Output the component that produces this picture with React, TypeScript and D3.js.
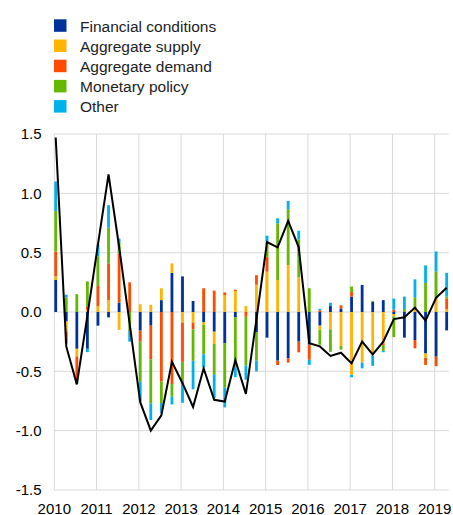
import React from "react";
import * as d3 from "d3";

const quarters = d3.range(38).map((i) => 2010 + i / 4);
const seriesNames = ["Financial conditions", "Aggregate supply", "Aggregate demand", "Monetary policy", "Other"];
const seriesKeys = ["fin", "sup", "dem", "mon", "oth"];
const seriesColors = ["#003299", "#FFB400", "#FF4B00", "#65B800", "#00B1EA"];

const fin = [0.27, -0.08, -0.31, -0.31, -0.115, -0.045, 0.08, 0, -0.157, -0.115, 0.1, 0.33, 0.3, 0.093, -0.087, -0.166, -0.264, -0.045, 0, -0.17, -0.216, -0.41, -0.39, -0.25, -0.275, -0.115, 0.05, 0.03, 0.13, 0.228, 0.087, 0.1, -0.017, -0.216, -0.236, -0.35, -0.377, -0.155];
const sup = [0.03, -0.085, -0.065, 0.02, 0.05, 0.1, -0.15, 0, 0.065, 0.06, 0.1, 0.08, -0.09, -0.09, -0.022, -0.104, 0.143, 0.177, 0.05, 0.23, 0.34, 0.27, 0.396, 0.292, 0, -0.035, -0.146, -0.287, -0.53, -0.427, -0.37, -0.264, -0.02, 0, 0.02, -0.036, 0.12, 0.022];
const dem = [0.21, -0.1, -0.2, 0.028, 0.17, 0.31, 0.41, 0.25, -0.093, -0.284, -0.587, -0.607, -0.33, -0.056, 0.2, 0.18, 0.022, 0.011, -0.04, 0.08, 0.125, -0.037, -0.037, -0.09, -0.128, 0.015, 0, 0.027, 0.038, 0, 0, -0.015, 0.02, 0, -0.07, -0.06, -0.08, 0.093];
const mon = [0.34, 0.124, 0.15, 0.21, 0.25, 0.3, 0.095, -0.16, -0.337, -0.371, -0.18, -0.107, -0.16, -0.265, -0.247, -0.26, -0.374, -0.42, -0.41, -0.24, 0.13, 0.478, 0.47, 0.32, 0.2, -0.126, -0.19, -0.03, 0.046, 0, 0.006, -0.05, -0.175, 0.025, 0.105, 0.245, 0.22, 0.015];
const oth = [0.25, 0.022, -0.03, -0.028, 0.1, 0.19, 0.035, -0.09, -0.169, -0.14, -0.085, -0.065, -0.185, -0.24, -0.112, -0.197, -0.166, -0.084, -0.12, -0.09, 0.048, 0.042, 0.07, 0.073, -0.042, 0.012, 0.028, 0, -0.02, -0.048, -0.084, -0.01, 0.093, 0.105, 0.15, 0.148, 0.17, 0.2];
const total = [1.47, -0.29, -0.61, -0.03, 0.57, 1.16, 0.55, -0.1, -0.76, -1.0, -0.87, -0.42, -0.6, -0.8, -0.475, -0.74, -0.755, -0.405, -0.69, -0.06, 0.59, 0.545, 0.767, 0.545, -0.264, -0.29, -0.37, -0.343, -0.433, -0.25, -0.357, -0.25, -0.06, -0.045, 0.037, -0.073, 0.12, 0.205];

const yTicks = [1.5, 1.0, 0.5, 0.0, -0.5, -1.0, -1.5];
const yearTicks = d3.range(2010, 2020);

const W = 453;
const H = 515;
const FONT = "'Liberation Sans', Arial, sans-serif";

export default function App() {
  const x = d3.scaleLinear().domain([2010, 2019]).range([54.3, 434.7]);
  const y = d3.scaleLinear().domain([-1.5, 1.5]).range([490, 134]);
  const xRight = 449;
  const barW = 2.8;
  const barOffset = 1.4;

  const rows = quarters.map((q, i) => ({
    q,
    fin: fin[i],
    sup: sup[i],
    dem: dem[i],
    mon: mon[i],
    oth: oth[i],
  }));
  const stack = d3.stack<any>().keys(seriesKeys).offset(d3.stackOffsetDiverging);
  const layers = stack(rows);

  const line = d3
    .line<number>()
    .x((_, i) => x(quarters[i]) + barOffset)
    .y((d) => y(d));

  return (
    <svg
      width={W}
      height={H}
      style={{ position: "absolute", left: 0, top: 0, background: "#fff" }}
      fontFamily={FONT}
    >
      {/* legend */}
      {seriesNames.map((name, i) => (
        <g key={name} transform={`translate(54, ${19.3 + i * 20.2})`}>
          <rect width={12.5} height={12.5} fill={seriesColors[i]} />
          <text x={26} y={12.3} fontSize={15.5} fill="#222">
            {name}
          </text>
        </g>
      ))}

      {/* horizontal grid */}
      {yTicks.map((t) => (
        <line key={"h" + t} x1={x(2010)} x2={xRight} y1={y(t)} y2={y(t)} stroke="#d9d9d9" strokeWidth={1} />
      ))}
      {/* vertical grid */}
      {yearTicks.map((t) => (
        <line key={"v" + t} x1={x(t)} x2={x(t)} y1={y(1.5)} y2={y(-1.5)} stroke="#d9d9d9" strokeWidth={1} />
      ))}

      {/* bars */}
      {layers.map((layer, li) => (
        <g key={seriesKeys[li]} fill={seriesColors[li]}>
          {layer.map((d, i) => {
            const y0 = y(d[0]);
            const y1 = y(d[1]);
            const h = Math.abs(y0 - y1);
            if (h < 0.01) return null;
            return (
              <rect
                key={i}
                x={x(quarters[i]) + barOffset - barW / 2}
                y={Math.min(y0, y1)}
                width={barW}
                height={h}
              />
            );
          })}
        </g>
      ))}

      {/* line */}
      <path d={line(total) || ""} fill="none" stroke="#000" strokeWidth={2} strokeLinejoin="miter" />

      {/* y labels */}
      {yTicks.map((t) => (
        <text key={"yl" + t} x={41.5} y={y(t)} dy="0.35em" textAnchor="end" fontSize={15} fill="#000">
          {d3.format(".1f")(t).replace("−", "-")}
        </text>
      ))}
      {/* x labels */}
      {yearTicks.map((t) => (
        <text key={"xl" + t} x={x(t)} y={513.5} textAnchor="middle" fontSize={15} fill="#000">
          {t}
        </text>
      ))}
    </svg>
  );
}
